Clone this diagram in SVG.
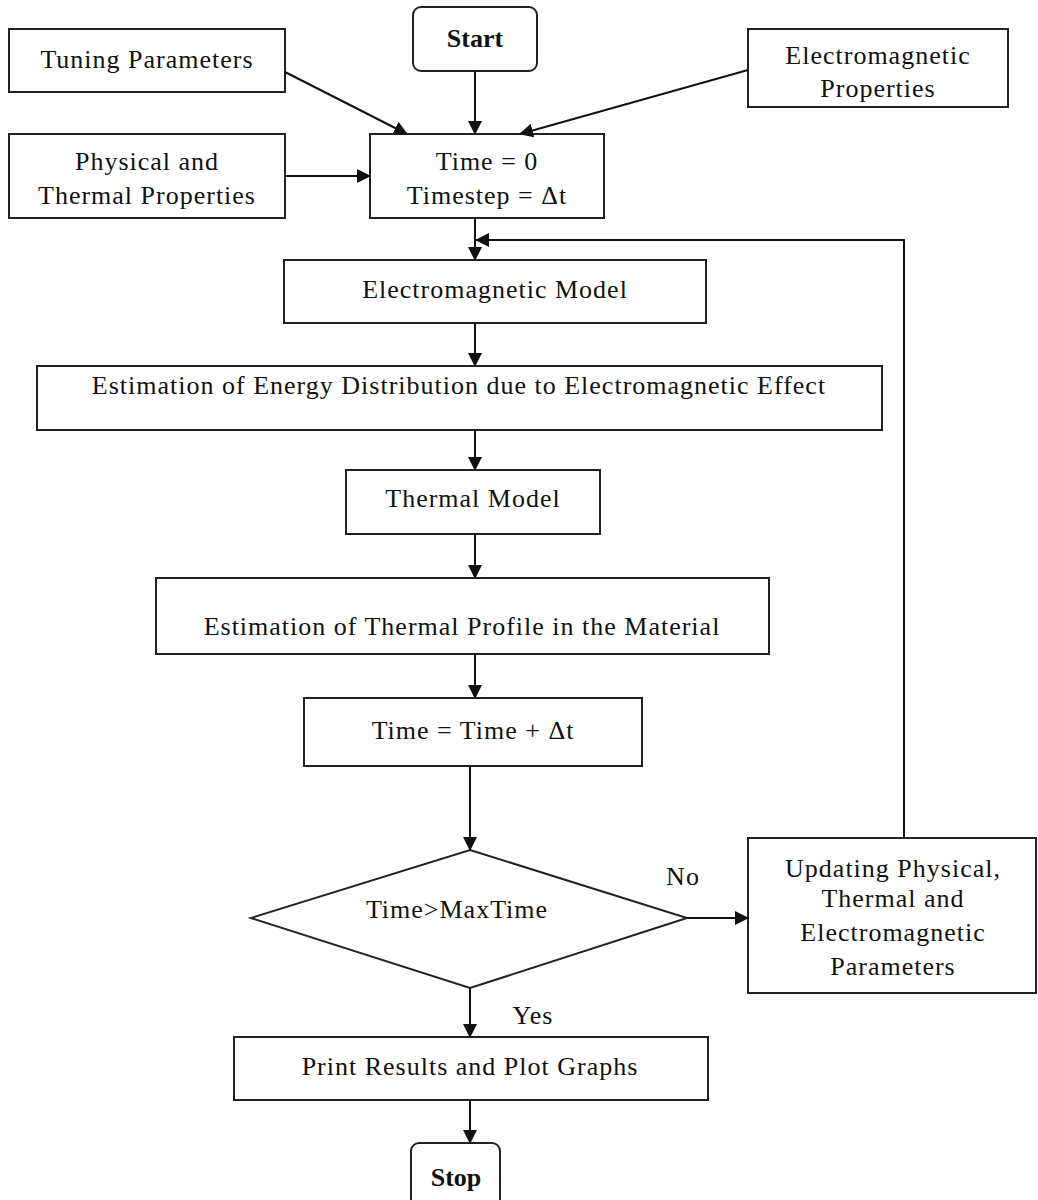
<svg xmlns="http://www.w3.org/2000/svg" width="1038" height="1200" viewBox="0 0 1038 1200">
<defs>
<marker id="arr" markerWidth="14" markerHeight="14" refX="13" refY="7" orient="auto" markerUnits="userSpaceOnUse">
<path d="M0,0 L14,7 L0,14 Z" fill="#111"/>
</marker>
<style>
.box{fill:#fff;stroke:#222;stroke-width:2}
.t{font-family:"Liberation Serif","Times New Roman",serif;font-size:26px;letter-spacing:1px;fill:#111;text-anchor:middle}
.b{font-weight:bold;letter-spacing:0}
.c{stroke:#111;stroke-width:2;fill:none}
</style>
</defs>
<rect width="1038" height="1200" fill="#fff"/>
<g id="start"><rect class="box" x="413" y="7" width="124" height="64" rx="8"/><text class="t b" x="475" y="47">Start</text></g>
<g id="tuning"><rect class="box" x="9" y="29" width="276" height="63"/><text class="t" x="147" y="68">Tuning Parameters</text></g>
<g id="emprops"><rect class="box" x="748" y="29" width="260" height="78"/><text class="t" x="878" y="64">Electromagnetic</text><text class="t" x="878" y="97">Properties</text></g>
<g id="physical"><rect class="box" x="9" y="134" width="276" height="84"/><text class="t" x="147" y="170">Physical and</text><text class="t" x="147" y="204">Thermal Properties</text></g>
<g id="init"><rect class="box" x="370" y="134" width="234" height="84"/><text class="t" x="487" y="170">Time = 0</text><text class="t" x="487" y="204">Timestep = Δt</text></g>
<g id="emmodel"><rect class="box" x="284" y="260" width="422" height="63"/><text class="t" x="495" y="298">Electromagnetic Model</text></g>
<g id="energy"><rect class="box" x="37" y="366" width="845" height="64"/><text class="t" x="459" y="394">Estimation of Energy Distribution due to Electromagnetic Effect</text></g>
<g id="thermal"><rect class="box" x="346" y="470" width="254" height="64"/><text class="t" x="473" y="507">Thermal Model</text></g>
<g id="profile"><rect class="box" x="156" y="578" width="613" height="76"/><text class="t" x="462" y="635">Estimation of Thermal Profile in the Material</text></g>
<g id="timeinc"><rect class="box" x="304" y="698" width="338" height="68"/><text class="t" x="473" y="739">Time = Time + Δt</text></g>
<g id="decision"><polygon class="box" points="470,850 687,918 470,988 251,918"/><text class="t" x="457" y="918">Time&gt;MaxTime</text></g>
<g id="update"><rect class="box" x="748" y="838" width="288" height="155"/><text class="t" x="893" y="877">Updating Physical,</text><text class="t" x="893" y="907">Thermal and</text><text class="t" x="893" y="941">Electromagnetic</text><text class="t" x="893" y="975">Parameters</text></g>
<g id="print"><rect class="box" x="234" y="1037" width="474" height="63"/><text class="t" x="470" y="1075">Print Results and Plot Graphs</text></g>
<g id="stop"><rect class="box" x="411" y="1143" width="89" height="70" rx="8"/><text class="t b" x="456" y="1186">Stop</text></g>
<g id="connectors">
<line class="c" x1="285" y1="72" x2="407" y2="134" marker-end="url(#arr)"/>
<line class="c" x1="475" y1="71" x2="475" y2="134" marker-end="url(#arr)"/>
<line class="c" x1="748" y1="70" x2="520" y2="134" marker-end="url(#arr)"/>
<line class="c" x1="285" y1="176" x2="370" y2="176" marker-end="url(#arr)"/>
<line class="c" x1="475" y1="218" x2="475" y2="260" marker-end="url(#arr)"/>
<polyline class="c" points="904,838 904,240 476,240" marker-end="url(#arr)"/>
<line class="c" x1="475" y1="323" x2="475" y2="366" marker-end="url(#arr)"/>
<line class="c" x1="475" y1="430" x2="475" y2="470" marker-end="url(#arr)"/>
<line class="c" x1="475" y1="534" x2="475" y2="578" marker-end="url(#arr)"/>
<line class="c" x1="475" y1="654" x2="475" y2="698" marker-end="url(#arr)"/>
<line class="c" x1="470" y1="766" x2="470" y2="850" marker-end="url(#arr)"/>
<line class="c" x1="687" y1="918" x2="748" y2="918" marker-end="url(#arr)"/>
<line class="c" x1="470" y1="988" x2="470" y2="1037" marker-end="url(#arr)"/>
<line class="c" x1="470" y1="1100" x2="470" y2="1143" marker-end="url(#arr)"/>
<text class="t" x="683" y="885">No</text>
<text class="t" x="533" y="1024">Yes</text>
</g>
</svg>
